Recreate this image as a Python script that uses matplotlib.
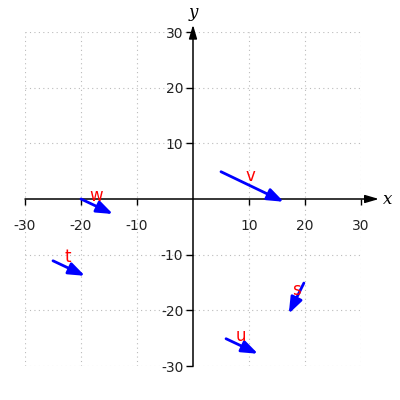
import matplotlib
matplotlib.use("Agg")
import matplotlib.pyplot as plt

plt.rcParams["axes.unicode_minus"] = False

labels = ["v", "w", "t", "s", "u"]
start_x = [5, -20, -25, 19.8, 5.9]
start_y = [4.9, 0, -11.1, -15.1, -25.1]
vec_x = [11.2, 5.7, 5.7, -2.7, 5.7]
vec_y = [-5.4, -2.7, -2.7, -5.5, -2.7]
label_x = [10.3, -17.3, -22.3, 18.5, 8.5]
label_y = [4.2, 0.5, -10.5, -16.3, -24.7]
ticks = [-30, -20, -10, 10, 20, 30]

fig = plt.figure(figsize=(4, 4), dpi=100)
ax = fig.add_axes([0.0625, 0.085, 0.84, 0.835])
ax.set_xlim(-30, 30)
ax.set_ylim(-30, 30)

for s in ["top", "right", "left", "bottom"]:
    ax.spines[s].set_visible(False)

# axis lines with arrows
ax.annotate("", xy=(33.2, 0), xytext=(-30, 0), annotation_clip=False,
            arrowprops=dict(arrowstyle="-|>,head_length=0.75,head_width=0.22",
                            color="black", lw=1.1,
                            mutation_scale=11, shrinkA=0, shrinkB=0))
ax.annotate("", xy=(0, 31.3), xytext=(0, -30), annotation_clip=False,
            arrowprops=dict(arrowstyle="-|>,head_length=0.75,head_width=0.22",
                            color="black", lw=1.1,
                            mutation_scale=11, shrinkA=0, shrinkB=0))
ax.text(34.0, 0, "x", fontsize=12, family="DejaVu Serif", style="italic",
        ha="left", va="center", clip_on=False)
ax.text(0, 32.0, "y", fontsize=12, family="DejaVu Serif", style="italic",
        ha="center", va="bottom", clip_on=False)

ax.set_xticks(ticks)
ax.set_yticks(ticks)
ax.set_xticklabels([str(t) for t in ticks])
ax.set_yticklabels([str(t) for t in ticks])
ax.xaxis.set_ticks_position("bottom")
ax.yaxis.set_ticks_position("left")
ax.spines["left"].set_position("zero")
ax.spines["bottom"].set_position("zero")
ax.tick_params(axis="x", direction="out", length=4.5, width=1, labelsize=10,
               color="black", labelcolor="#222222", pad=10)
ax.tick_params(axis="y", direction="out", length=5, width=1, labelsize=10,
               color="black", labelcolor="#222222", pad=2)

ax.grid(True, linestyle=(0, (1, 3)), color="#bbbbbb", linewidth=0.8)

for lab, x0, y0, dx, dy, lx, ly in zip(labels, start_x, start_y, vec_x, vec_y, label_x, label_y):
    ax.annotate("", xy=(x0 + dx, y0 + dy), xytext=(x0, y0),
                arrowprops=dict(arrowstyle="-|>,head_length=0.75,head_width=0.28",
                                color="blue", lw=2,
                                mutation_scale=13, shrinkA=0, shrinkB=0))
    ax.text(lx, ly, lab, color="red", fontsize=12, ha="center", va="center")

fig.savefig("out.png", dpi=100)
